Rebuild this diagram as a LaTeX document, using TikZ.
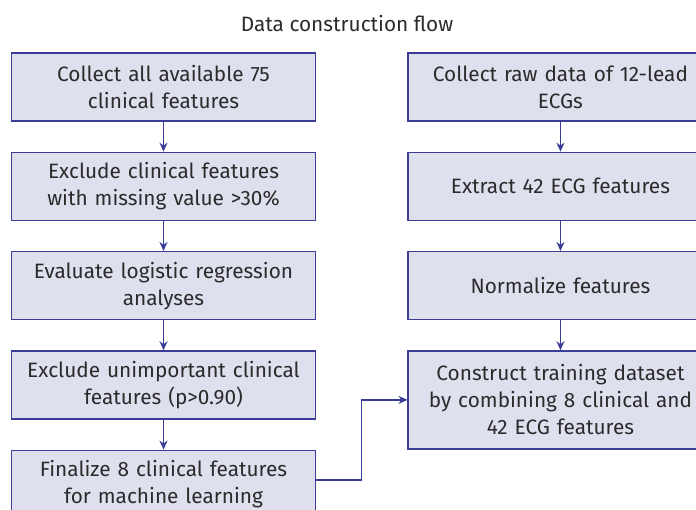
\documentclass[tikz,border=0pt]{standalone}
\usepackage{fontspec}
\setmainfont{Fira Sans}
\usetikzlibrary{positioning, arrows.meta}

\definecolor{boxfill}{HTML}{DFE0EE}
\definecolor{boxline}{HTML}{3A3C98}
\definecolor{txt}{HTML}{2B2B2B}

\tikzset{
  stepbox/.style={draw=boxline, fill=boxfill, line width=1.3pt, text=txt,
    minimum width=303pt, minimum height=68pt, text width=298pt, align=center,
    font=\fontsize{20.8}{27}\selectfont},
  flow/.style={draw=boxline, line width=1.3pt, -{Stealth[length=9pt, width=8pt]}},
}

\begin{document}
\begin{tikzpicture}[x=1pt, y=1pt, node distance=30pt]
  \useasboundingbox (0,0) rectangle (696,-509);
  \clip (0,0) rectangle (696,-509);

  \node[text=txt, font=\fontsize{20.8}{24}\selectfont, anchor=base] (title) at (347,-31) {Data construction flow};

  % clinical features column
  \node[stepbox] (clin1) at (163.5,-87) {Collect all available 75\\clinical features};
  \node[stepbox, below=of clin1] (clin2) {Exclude clinical features\\with missing value >30\%};
  \node[stepbox, below=of clin2] (clin3) {Evaluate logistic regression\\analyses};
  \node[stepbox, below=of clin3] (clin4) {Exclude unimportant clinical\\features (p>0.90)};
  \node[stepbox, below=of clin4] (clin5) {Finalize 8 clinical features\\for machine learning};

  % ECG column
  \node[stepbox, right=91pt of clin1] (ecg1) {Collect raw data of 12-lead\\ECGs};
  \node[stepbox, below=of ecg1] (ecg2) {Extract 42 ECG features};
  \node[stepbox, below=of ecg2] (ecg3) {Normalize features};
  \node[stepbox, below=of ecg3, minimum height=98pt] (train) {Construct training dataset\\by combining 8 clinical and\\42 ECG features};

  \draw[flow] (clin1) -- (clin2);
  \draw[flow] (clin2) -- (clin3);
  \draw[flow] (clin3) -- (clin4);
  \draw[flow] (clin4) -- (clin5);
  \draw[flow] (ecg1) -- (ecg2);
  \draw[flow] (ecg2) -- (ecg3);
  \draw[flow] (ecg3) -- (train);
  \draw[flow] (clin5.east |- 0,-480) -- ++(45,0) |- (train.west);
\end{tikzpicture}
\end{document}
